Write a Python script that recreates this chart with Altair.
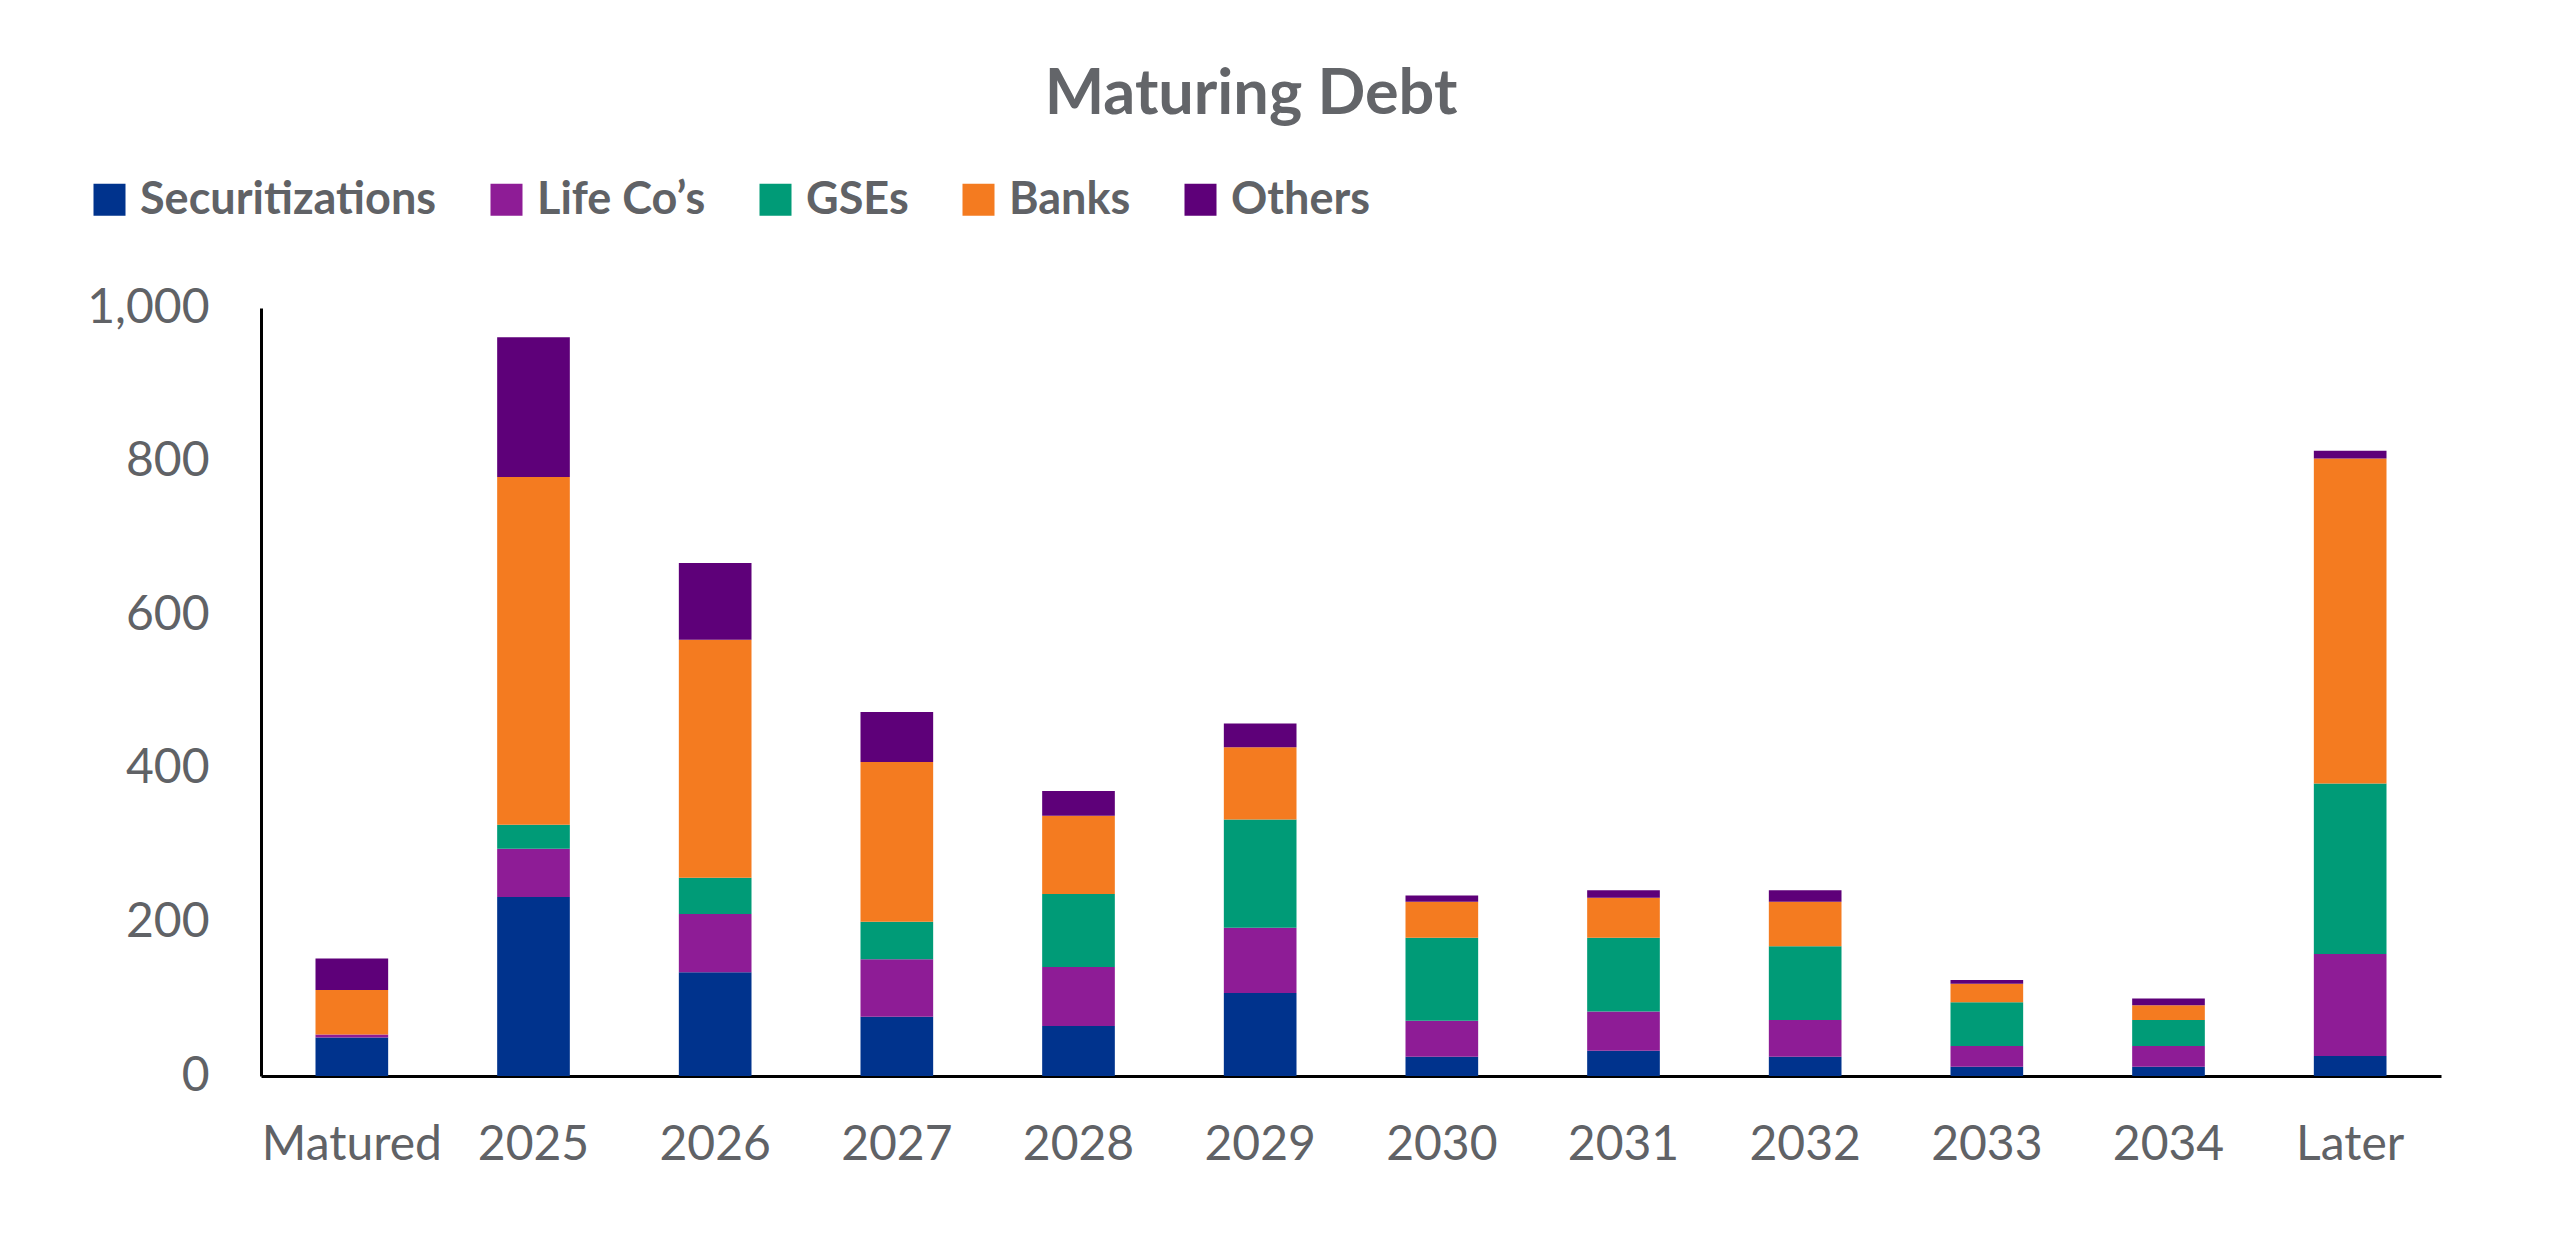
import altair as alt
import pandas as pd

# Maturity buckets along the x axis
buckets = ["Matured", "2025", "2026", "2027", "2028", "2029", "2030",
           "2031", "2032", "2033", "2034", "Later"]

# Lender groups, bottom of the stack first
lenders = ["Securitizations", "Life Co\u2019s", "GSEs", "Banks", "Others"]
lender_colors = ["#00338D", "#8E1C96", "#009B77", "#F47B20", "#5E0079"]

# Maturing debt by lender group for each bucket
securitizations = [50, 233, 135, 77, 65, 108, 25, 33, 25, 12, 12, 26]
life_cos = [4, 63, 76, 75, 77, 85, 47, 51, 48, 27, 27, 133]
gses = [0, 31, 47, 49, 95, 141, 108, 96, 96, 57, 34, 222]
banks = [58, 453, 310, 208, 102, 94, 47, 52, 58, 24, 19, 423]
others = [41, 182, 100, 65, 32, 31, 8, 10, 15, 5, 9, 10]

series = [securitizations, life_cos, gses, banks, others]

rows = []
for idx, (name, values) in enumerate(zip(lenders, series)):
    for bucket, v in zip(buckets, values):
        rows.append({"bucket": bucket, "lender": name, "value": v, "idx": idx})
df = pd.DataFrame(rows)

TEXT_GRAY = "#606266"

chart = (
    alt.Chart(df)
    .mark_bar()
    .encode(
        x=alt.X(
            "bucket:N",
            sort=buckets,
            scale=alt.Scale(paddingInner=0.6, paddingOuter=0.3),
            axis=alt.Axis(
                title=None,
                labelAngle=0,
                labelFont="Lato",
                labelFontSize=48,
                labelColor=TEXT_GRAY,
                labelPadding=45,
                labelLimit=500,
                labelOverlap=False,
                ticks=False,
                domainColor="#000000",
                domainWidth=3,
            ),
        ),
        y=alt.Y(
            "value:Q",
            stack="zero",
            scale=alt.Scale(domain=[0, 1000], nice=False),
            axis=alt.Axis(
                title=None,
                values=[0, 200, 400, 600, 800, 1000],
                format=",d",
                labelFont="Lato",
                labelFontSize=48,
                labelColor=TEXT_GRAY,
                labelPadding=52,
                ticks=False,
                grid=False,
                domainColor="#000000",
                domainWidth=3,
            ),
        ),
        color=alt.Color(
            "lender:N",
            scale=alt.Scale(domain=lenders, range=lender_colors),
            legend=alt.Legend(
                title=None,
                orient="none",
                direction="horizontal",
                legendX=-174,
                legendY=-131,
                symbolType="square",
                symbolSize=1024,
                symbolStrokeWidth=0,
                symbolOpacity=1,
                labelFont="Lato",
                labelFontWeight="bold",
                labelFontSize=45,
                labelColor=TEXT_GRAY,
                labelOffset=8,
                labelLimit=0,
                columnPadding=47,
            ),
        ),
        order=alt.Order("idx:Q", sort="ascending"),
    )
    .properties(
        width=2180,
        height=768,
        title=alt.TitleParams(
            "Maturing Debt",
            font="Lato",
            fontSize=63,
            fontWeight="bold",
            color="#636569",
            anchor="middle",
            dx=-100,
            offset=50,
        ),
        autosize=alt.AutoSizeParams(type="none"),
        padding={"left": 261, "top": 308, "right": 119, "bottom": 184},
    )
    .configure(background="#ffffff")
    .configure_view(strokeWidth=0, stroke="transparent")
)

chart.save("out.html", embed_options={"renderer": "svg", "actions": False})
